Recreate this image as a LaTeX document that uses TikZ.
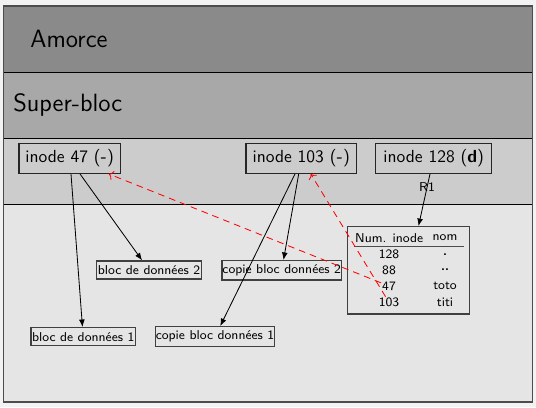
\documentclass[tikz,border=0pt]{standalone}
\usetikzlibrary{arrows.meta,calc}
\definecolor{amorceC}{HTML}{8A8A8A}
\definecolor{superC}{HTML}{A8A8A8}
\definecolor{inodeC}{HTML}{CCCCCC}
\definecolor{dataC}{HTML}{E5E5E5}
\definecolor{outC}{HTML}{F2F2F2}
\begin{document}
\begin{tikzpicture}[x=0.6pt,y=-0.6pt,font=\sffamily,
  ibox/.style={draw=black!85,line width=0.75pt,inner sep=0pt,minimum height=18pt,
    font=\sffamily\fontsize{10.5}{12}\selectfont},
  dbox/.style={draw=black!75,line width=0.8pt,inner sep=0pt,
    font=\sffamily\fontsize{7.7}{9}\selectfont},
  cell/.style={inner sep=0.5pt,font=\sffamily\fontsize{7.7}{9}\selectfont},
  arr/.style={-{Latex[length=4.5pt,width=3.5pt]},line width=0.5pt},
  refarr/.style={->,red,dash pattern=on 4pt off 3pt,line width=0.5pt},
  band/.style={line width=0.6pt,black}]
\useasboundingbox (0,0) rectangle (536,407);
\fill[outC] (0,0) rectangle (536,407);
% bands
\fill[amorceC] (3.5,6) rectangle (532.5,72);
\fill[superC] (3.5,72) rectangle (532.5,138);
\fill[inodeC] (3.5,138) rectangle (532.5,204);
\fill[dataC] (3.5,204) rectangle (532.5,402);
\draw[band] (3.5,72) -- (532.5,72);
\draw[band] (3.5,138) -- (532.5,138);
\draw[band] (3.5,204) -- (532.5,204);
\draw[black!70,line width=1pt] (3.5,6) rectangle (532.5,402);
\node[anchor=west,inner sep=0pt,font=\sffamily\fontsize{15}{18}\selectfont] (amorce) at (30,39) {Amorce};
\node[anchor=base west,inner sep=0pt,font=\sffamily\fontsize{15}{18}\selectfont] (superbloc) at (13,111) {Super-bloc};
% inodes
\node[ibox,minimum width=60.8pt] (i47) at (69.7,158.3) {inode 47 (\textbf{-})};
\node[ibox,minimum width=66.2pt] (i103) at (301.2,158.3) {inode 103 (\textbf{-})};
\node[ibox,minimum width=69.6pt] (i128) at (433.7,158.3) {inode 128 (\textbf{d})};
% data blocks
\node[dbox,minimum width=62.8pt,minimum height=10.8pt] (b2) at (149,270) {bloc de données 2};
\node[dbox,minimum width=71.6pt,minimum height=11.6pt] (c2) at (281.7,270.3) {copie bloc données 2};
\node[dbox,minimum width=62.6pt,minimum height=10.8pt] (b1) at (83.2,336.7) {bloc de données 1};
\node[dbox,minimum width=71.6pt,minimum height=12pt] (c1) at (215,336.7) {copie bloc données 1};
% directory table
\node[dbox,minimum width=73.3pt,minimum height=52.4pt] (tbl) at (408.7,270.4) {};
\node[cell] (hnum) at (389.2,238) {Num. inode};
\node[cell] (hnom) at (445,238) {nom};
\draw[black!70,line width=0.8pt] (354,246.7) -- (464,246.7);
\node[cell] (r128) at (389,254.3) {128};
\node[cell] (n128) at (445,254.3) {\textbf{.}};
\node[cell] (r88) at (389,270) {88};
\node[cell] (n88) at (445,270) {\textbf{..}};
\node[cell] (r47) at (389,286) {47};
\node[cell] (n47) at (445,286) {toto};
\node[cell] (r103) at (389,302.3) {103};
\node[cell] (n103) at (445,302.3) {titi};
% arrows
\draw[arr] ($(i47.south)+(1.3,0)$) -- (b1);
\draw[arr] ($(i47.south)+(10.3,0)$) -- (b2);
\draw[arr] ($(i103.south)+(-6.2,0)$) -- (c1);
\draw[arr] ($(i103.south)+(-2.5,0)$) -- (c2);
\draw[arr] ($(i128.south)+(-3.7,0)$) -- node[pos=0.26,inner sep=0pt,font=\sffamily\fontsize{7.7}{9}\selectfont] (r1) {R1} (tbl);
\draw[refarr] (r47) -- (i47);
\draw[refarr] (r103) -- (i103);
\end{tikzpicture}
\end{document}
